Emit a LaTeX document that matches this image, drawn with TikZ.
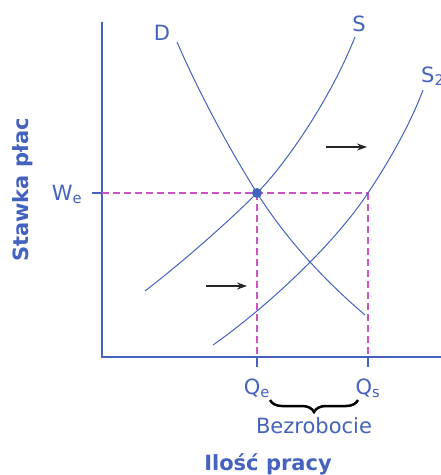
\documentclass[tikz,border=0pt]{standalone}
\usepackage{fontspec}
\setmainfont{DejaVu Sans}
\usetikzlibrary{arrows.meta, positioning, decorations.pathreplacing}
\definecolor{lineblue}{RGB}{68,98,190}
\definecolor{guidepink}{RGB}{205,85,195}
\tikzset{
  mcurve/.style = {lineblue, line width=1pt},
  axisline/.style = {lineblue, line width=1.3pt},
  guideline/.style = {guidepink, line width=1.2pt, dash pattern=on 7pt off 4pt},
  shiftarrow/.style = {-{Stealth[length=10pt, width=7pt]}, line width=1.1pt, black!85},
  lbl/.style = {text=lineblue, font=\fontsize{21}{24}\selectfont, inner sep=0pt, anchor=base},
  axistitle/.style = {text=lineblue, font=\bfseries\fontsize{21}{24}\selectfont, inner sep=0pt, anchor=base},
}

\begin{document}
\begin{tikzpicture}[x=1pt, y=-1pt]

    \useasboundingbox (0,0) rectangle (441,475);

    % Points
    \coordinate (O) at (102,357);
    \coordinate (ytop) at (102,22);
    \coordinate (xend) at (441,357);
    \coordinate (E) at (257,193);
    \coordinate (F) at (368,193);
    \coordinate (Ebot) at (257,357);
    \coordinate (Fbot) at (368,357);
    \coordinate (Wtick) at (92,193);
    \coordinate (Wax) at (102,193);
    \coordinate (Eticks) at (257,367);
    \coordinate (Fticks) at (368,367);

    % Axes
    \draw [axisline] (ytop) -- (O) -- (xend);
    \draw [axisline] (Wtick) -- (Wax);
    \draw [axisline] (Ebot) -- (Eticks);
    \draw [axisline] (Fbot) -- (Fticks);

    % Guides
    \draw [guideline] (Wax) -- (F);
    \draw [guideline] (E) -- (Ebot);
    \draw [guideline] (F) -- (Fbot);

    % Curves
    \draw [mcurve] (177,42) .. controls (200,95) and (230,150) .. (E)
                   .. controls (290,245) and (330,285) .. (365,315);
    \draw [mcurve] (145,291) .. controls (175,268) and (222,228) .. (E)
                   .. controls (285,165) and (330,100) .. (355,37);
    \draw [mcurve] (213,345) .. controls (260,312) and (330,250) .. (F)
                   .. controls (388,163) and (410,125) .. (423,90);
    \fill [lineblue] (E) circle (5pt);

    % Shift arrows
    \coordinate (a1) at (326,147);
    \coordinate (a2) at (367,147);
    \coordinate (b1) at (206,286);
    \coordinate (b2) at (247,286);
    \draw [shiftarrow] (a1) -- (a2);
    \draw [shiftarrow] (b1) -- (b2);

    % Labels
    \node (D) [lbl] at (162,40) {D};
    \node (S) [lbl] at (359,31) {S};
    \node (S2) [lbl, anchor=base west] at (421,82) {S\textsubscript{2}};
    \node (We) [lbl] at (67,200) {W\textsubscript{e}};
    \node (Qe) [lbl] at (257,394) {Q\textsubscript{e}};
    \node (Qs) [lbl] at (368,394) {Q\textsubscript{s}};

    % Brace
    \coordinate (br1) at (270,400);
    \coordinate (br2) at (358,400);
    \draw [decorate, decoration={brace, mirror, amplitude=12pt}, line width=2.5pt] (br1) -- (br2);
    \node (bez) [lbl] at (314,433) {Bezrobocie};

    % Axis titles
    \node (xtitle) [axistitle] at (268,470) {Ilość pracy};
    \node (ytitle) [axistitle, rotate=90] at (28,190) {Stawka płac};

\end{tikzpicture}
\end{document}
